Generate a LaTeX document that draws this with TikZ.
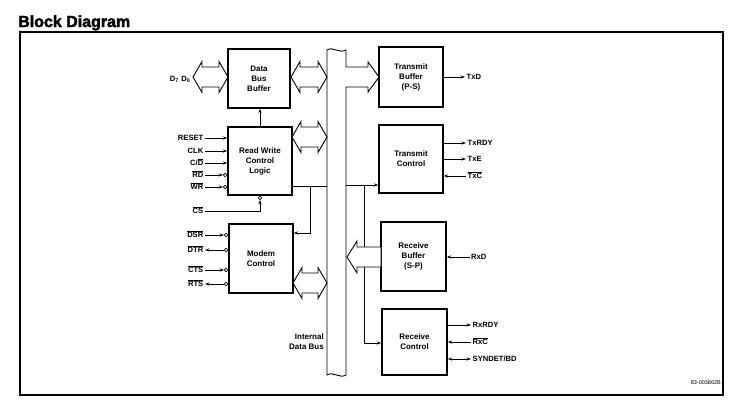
\documentclass[tikz,border=0pt]{standalone}
\usepackage{fontspec}
\setmainfont{Liberation Sans}
\newfontfamily\titlefont{Liberation Sans}[BoldFeatures={FakeBold=2.6}]
\usetikzlibrary{arrows.meta,calc}
\newcommand{\ovl}[1]{$\overline{\hbox{#1}}$}
% hollow double-headed bus arrow: x1, x2, y
\newcommand{\hollowdbl}[3]{%
  \draw[hollow] (#1,#3) -- (#1+9,#3-15.5) -- (#1+9,#3-10) -- (#2-9,#3-10) -- (#2-9,#3-15.5)
    -- (#2,#3) -- (#2-9,#3+15.5) -- (#2-9,#3+10) -- (#1+9,#3+10) -- (#1+9,#3+15.5) -- cycle;}
\tikzset{
  blk/.style={draw, line width=1.4pt, align=center, inner sep=0pt,
    font=\fontsize{8}{10}\selectfont\bfseries},
  lbl/.style={font=\fontsize{7.6}{9}\selectfont\bfseries, inner sep=1.5pt,
    text height=6pt, text depth=1pt},
  arr/.style={line width=0.8pt, -{Stealth[length=4.5pt,width=3.2pt]}},
  barr/.style={line width=0.8pt, {Stealth[length=4.5pt,width=3.2pt]}-{Stealth[length=4.5pt,width=3.2pt]}},
  wire/.style={line width=0.8pt},
  bubble/.style={circle, draw, fill=white, inner sep=0pt, minimum size=3.6pt, line width=0.6pt},
  hollow/.style={draw, fill=white, line width=0.9pt, line join=miter},
}
\begin{document}
\begin{tikzpicture}[x=1pt,y=-1pt]
\useasboundingbox (0,0) rectangle (737,405);
% title and frame
\node[anchor=base west, inner sep=0pt, font=\titlefont\bfseries\fontsize{16}{18}\selectfont] (title) at (18,27) {Block Diagram};
\draw[line width=1.2pt] (20,32) rectangle (723,395);
\node[anchor=base east, inner sep=0pt, font=\fontsize{5.5}{6}\selectfont] (code) at (721,384) {83-003862B};

% internal data bus
\draw[hollow] (327,50) .. controls (333,46) and (339,54) .. (346,50)
  -- (346,67) -- (368,67) -- (368,62) -- (379,77) -- (368,92) -- (368,87) -- (346,87)
  -- (346,375) .. controls (340,379) and (333,371) .. (327,375) -- cycle;
\node[font=\fontsize{8}{10}\selectfont\bfseries, align=right, anchor=east, inner sep=1pt] (ibus) at (325,342) {Internal\\Data Bus};
\coordinate (busL) at (327,200);
\coordinate (busR) at (346,200);

% blocks
\node[blk, minimum width=62pt, minimum height=59pt] (DBB) at (259,78.5) {Data\\Bus\\Buffer};
\node[blk, minimum width=64pt, minimum height=68pt] (RWC) at (260,161) {Read Write\\Control\\Logic};
\node[blk, minimum width=64pt, minimum height=69pt] (MC) at (261,258.5) {Modem\\Control};
\node[blk, minimum width=64pt, minimum height=60pt] (TB) at (411,77) {Transmit\\Buffer\\(P-S)};
\node[blk, minimum width=64pt, minimum height=68pt] (TC) at (411,159) {Transmit\\Control};
\node[blk, minimum width=65pt, minimum height=69pt] (RB) at (413.5,256.5) {Receive\\Buffer\\(S-P)};
\node[blk, minimum width=65pt, minimum height=66pt] (RC) at (414.5,342) {Receive\\Control};

% internal control wires
\coordinate (j1) at (310,186);
\coordinate (mcY) at (0,233);
\draw[wire] (j1 -| RWC.east) -- (j1 -| busL);
\draw[arr] (j1) |- (mcY -| MC.east);
\coordinate (j2) at (364,185);
\coordinate (rcY) at (0,343);
\draw[arr] (j2 -| busR) -- (j2 -| TC.west);
\draw[arr] (j2) |- (rcY -| RC.west);
\draw[arr] (RWC.north) -- (RWC.north |- DBB.south);

% hollow bus arrows
\hollowdbl{193}{228}{77}
\hollowdbl{291}{327}{77}
\hollowdbl{292}{327}{137}
\hollowdbl{293}{327}{283}
\draw[hollow] (347,257) -- (357,241) -- (357,247) -- (381,247) -- (381,267) -- (357,267) -- (357,273) -- cycle;
\node[lbl, anchor=east] (lD) at (192,79) {D\textsubscript{7}\,\,D\textsubscript{0}};

% read/write control inputs
\node[lbl, anchor=east] (lRESET) at (205,138) {RESET};
\node[lbl, anchor=east] (lCLK) at (205,151) {CLK};
\node[lbl, anchor=east] (lCD) at (205,163) {C/\ovl{D}};
\node[lbl, anchor=east] (lRD) at (205,175) {\ovl{RD}};
\node[lbl, anchor=east] (lWR) at (205,187) {\ovl{WR}};
\node[lbl, anchor=east] (lCS) at (205,211) {\ovl{CS}};
\draw[arr] (lRESET.east) -- (lRESET.east -| RWC.west);
\draw[arr] (lCLK.east) -- (lCLK.east -| RWC.west);
\draw[arr] (lCD.east) -- (lCD.east -| RWC.west);
\node[bubble, anchor=east] (bRD) at (lRD.east -| RWC.west) {};
\node[bubble, anchor=east] (bWR) at (lWR.east -| RWC.west) {};
\draw[arr] (lRD.east) -- (bRD.west);
\draw[arr] (lWR.east) -- (bWR.west);
\node[bubble, anchor=north] (bCS) at (RWC.south) {};
\draw[arr] (lCS.east) -| (bCS.south);

% modem signals
\node[lbl, anchor=east] (lDSR) at (205,235) {\ovl{DSR}};
\node[lbl, anchor=east] (lDTR) at (205,250) {\ovl{DTR}};
\node[lbl, anchor=east] (lCTS) at (205,270) {\ovl{CTS}};
\node[lbl, anchor=east] (lRTS) at (205,284) {\ovl{RTS}};
\node[bubble, anchor=east] (bDSR) at (lDSR.east -| MC.west) {};
\node[bubble, anchor=east] (bDTR) at (lDTR.east -| MC.west) {};
\node[bubble, anchor=east] (bCTS) at (lCTS.east -| MC.west) {};
\node[bubble, anchor=east] (bRTS) at (lRTS.east -| MC.west) {};
\draw[arr] (lDSR.east) -- (bDSR.west);
\draw[arr] (bDTR.west) -- (lDTR.east);
\draw[arr] (lCTS.east) -- (bCTS.west);
\draw[arr] (bRTS.west) -- (lRTS.east);

% transmitter signals
\node[lbl, anchor=west] (lTxD) at (465,77) {TxD};
\draw[arr] (TB.east) -- (lTxD.west);
\node[lbl, anchor=west] (lTxRDY) at (466,143) {TxRDY};
\node[lbl, anchor=west] (lTxE) at (466,159) {TxE};
\node[lbl, anchor=west] (lTxC) at (466,176) {\ovl{TxC}};
\draw[arr] (lTxRDY.west -| TC.east) -- (lTxRDY.west);
\draw[arr] (lTxE.west -| TC.east) -- (lTxE.west);
\draw[arr] (lTxC.west) -- (lTxC.west -| TC.east);

% receiver signals
\node[lbl, anchor=west] (lRxD) at (469.5,257) {RxD};
\draw[arr] (lRxD.west) -- (lRxD.west -| RB.east);
\node[lbl, anchor=west] (lRxRDY) at (471,325) {RxRDY};
\node[lbl, anchor=west] (lRxC) at (471,342) {\ovl{RxC}};
\node[lbl, anchor=west] (lSYN) at (471,359) {SYNDET/BD};
\draw[arr] (lRxRDY.west -| RC.east) -- (lRxRDY.west);
\draw[arr] (lRxC.west) -- (lRxC.west -| RC.east);
\draw[barr] (lSYN.west -| RC.east) -- (lSYN.west);
\end{tikzpicture}
\end{document}
